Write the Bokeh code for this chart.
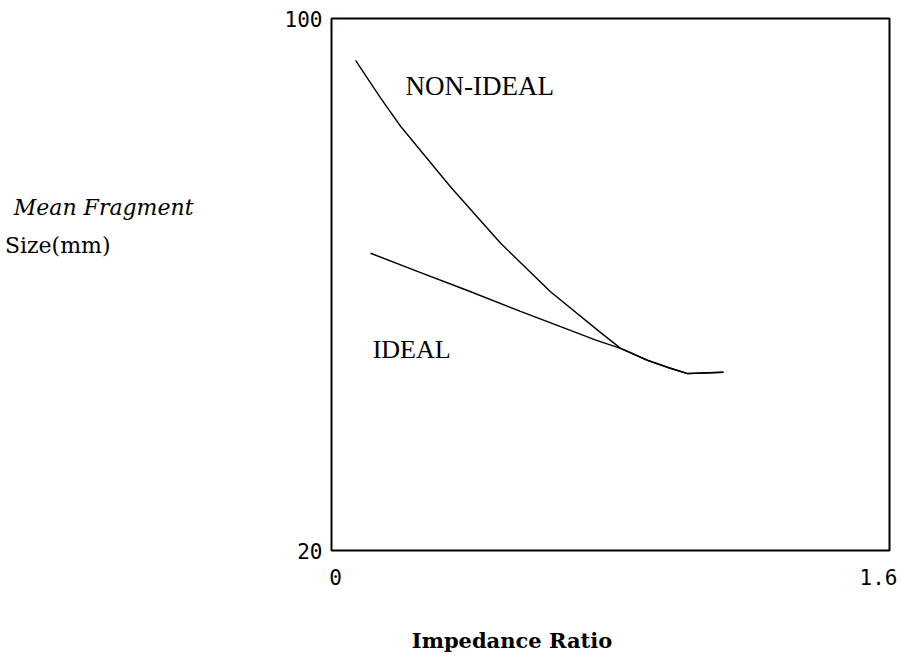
from bokeh.plotting import figure
from bokeh.models import Range1d, FixedTicker, Label, LinearAxis
from bokeh.embed import file_html
from bokeh.resources import INLINE

# Data
nonideal_x = [0.069, 0.140, 0.198, 0.341, 0.485, 0.628, 0.771, 0.829, 0.906, 0.972, 1.021, 1.124]
nonideal_y = [93.7, 88.1, 83.8, 74.7, 66.2, 58.9, 52.8, 50.4, 48.6, 47.4, 46.6, 46.8]
ideal_x = [0.112, 0.25, 0.39, 0.54, 0.67, 0.76, 0.829, 0.906, 0.972, 1.021, 1.124]
ideal_y = [64.7, 61.9, 59.1, 56.0, 53.4, 51.6, 50.4, 48.6, 47.4, 46.6, 46.8]
x_ticks = [0, 1.6]
y_ticks = [20, 100]
x_title = "Impedance Ratio"
y_title_1 = "Mean Fragment"
y_title_2 = "Size(mm)"

# layout constants
X0, X1, Y0, Y1 = 0, 1.6, 20, 100
FRAME_W, FRAME_H = 558, 532
X_TITLE_AT = 0.5176
Y_TITLE_1_AT = 71.6
Y_TITLE_2_AT = 65.9
TICK_INSET_L, TICK_INSET_R = 4, 11   # x tick labels sit slightly inside the frame

p = figure(frame_width=FRAME_W, frame_height=FRAME_H, output_backend="svg", toolbar_location=None,
           x_range=Range1d(X0, X1), y_range=Range1d(Y0, Y1),
           min_border_left=331, min_border_right=10, min_border_top=18, min_border_bottom=106)
p.xgrid.visible = False
p.ygrid.visible = False
p.outline_line_color = "black"
p.outline_line_width = 2
p.outline_line_alpha = 1

# tick-label range: 0 and 1.6 land slightly inside the frame edges, as in the reference
span_px = FRAME_W - TICK_INSET_L - TICK_INSET_R
upp = (X1 - X0) / span_px
p.extra_x_ranges = {"xticks": Range1d(X0 - TICK_INSET_L * upp, X1 + TICK_INSET_R * upp)}


def plain(ax):
    ax.axis_line_color = None
    ax.major_tick_line_color = None
    ax.minor_tick_line_color = None
    ax.major_tick_out = 0
    ax.major_tick_in = 0
    ax.minor_tick_out = 0
    ax.minor_tick_in = 0
    ax.major_label_text_color = "black"


tick_font = "DejaVu Sans Mono"
p.xaxis[0].x_range_name = "xticks"
for ax, ticks in ((p.xaxis[0], x_ticks), (p.yaxis[0], y_ticks)):
    ax.ticker = FixedTicker(ticks=ticks)
    plain(ax)
    ax.major_label_text_font = tick_font
    ax.major_label_text_font_size = "21px"
p.xaxis.major_label_standoff = 18
p.yaxis.major_label_standoff = 9
p.xaxis.major_label_overrides = {0: "0", 1.6: "1.6"}

# x title as an extra axis' label
xt = LinearAxis(ticker=FixedTicker(ticks=[X_TITLE_AT]),
                major_label_overrides={X_TITLE_AT: x_title})
plain(xt)
xt.major_label_text_font = "DejaVu Serif"
xt.major_label_text_font_style = "bold"
xt.major_label_text_font_size = "21px"
xt.major_label_standoff = 40
p.add_layout(xt, "below")

# y titles as extra axes' labels
ya = LinearAxis(ticker=FixedTicker(ticks=[Y_TITLE_1_AT]),
                major_label_overrides={Y_TITLE_1_AT: y_title_1})
plain(ya)
ya.major_label_text_font = "DejaVu Serif"
ya.major_label_text_font_style = "italic"
ya.major_label_text_font_size = "22px"
ya.major_label_standoff = 88
p.add_layout(ya, "left")

yb = LinearAxis(ticker=FixedTicker(ticks=[Y_TITLE_2_AT]),
                major_label_overrides={Y_TITLE_2_AT: y_title_2})
plain(yb)
yb.major_label_text_font = "DejaVu Serif"
yb.major_label_text_font_size = "22px"
yb.major_label_standoff = -100
p.add_layout(yb, "left")

p.line(nonideal_x, nonideal_y, line_color="black", line_width=1.4)
p.line(ideal_x, ideal_y, line_color="black", line_width=1.5)

serif = "Liberation Serif"
p.add_layout(Label(x=0.212, y=89.9, text="NON-IDEAL", text_font=serif, text_font_size="27px",
                   text_baseline="middle", text_color="black"))
p.add_layout(Label(x=0.118, y=50.2, text="IDEAL", text_font=serif, text_font_size="26px",
                   text_baseline="middle", text_color="black"))

open("out.html", "w").write(file_html(p, INLINE))
